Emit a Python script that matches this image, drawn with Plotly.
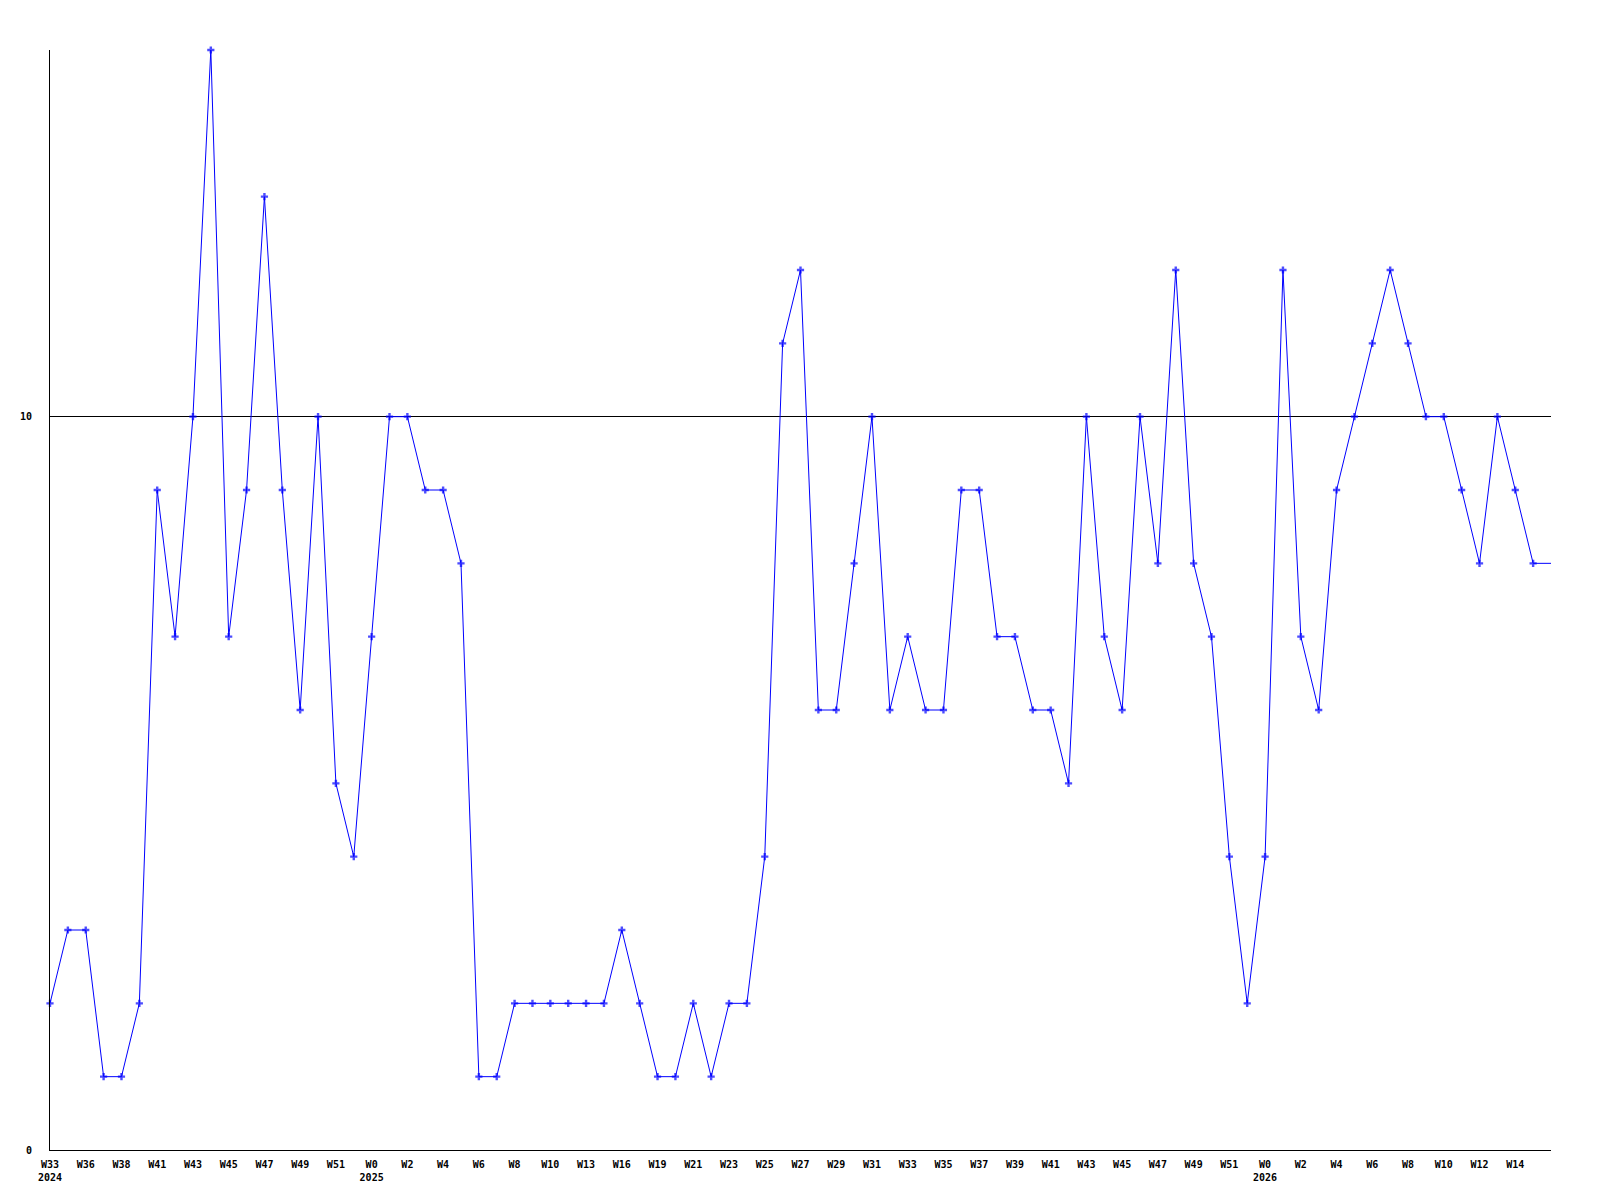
import plotly.graph_objects as go

# Weekly values (85 points)
values = [2, 3, 3, 1, 1, 2, 9, 7, 10, 15,
          7, 9, 13, 9, 6, 10, 5, 4, 7, 10,
          10, 9, 9, 8, 1, 1, 2, 2, 2, 2,
          2, 2, 3, 2, 1, 1, 2, 1, 2, 2,
          4, 11, 12, 6, 6, 8, 10, 6, 7, 6,
          6, 9, 9, 7, 7, 6, 6, 5, 10, 7,
          6, 10, 8, 12, 8, 7, 4, 2, 4, 12,
          7, 6, 9, 10, 11, 12, 11, 10, 10, 9,
          8, 10, 9, 8, 8]

# Tick labels, one every second point
tick_weeks = ["W33", "W36", "W38", "W41", "W43", "W45", "W47", "W49", "W51",
              "W0", "W2", "W4", "W6", "W8",
              "W10", "W13", "W16", "W19", "W21", "W23",
              "W25", "W27", "W29", "W31", "W33", "W35", "W37", "W39", "W41",
              "W43", "W45", "W47", "W49", "W51",
              "W0", "W2", "W4", "W6", "W8", "W10", "W12", "W14"]
tick_years = ["2024", "", "", "", "", "", "", "", "",
              "2025", "", "", "", "",
              "", "", "", "", "", "",
              "", "", "", "", "", "", "", "", "",
              "", "", "", "", "",
              "2026", "", "", "", "", "", "", ""]

y_ticks = [0, 10]

n = len(values)
x = list(range(n))
tickvals = list(range(0, 2 * len(tick_weeks), 2))
ticktext = [f"<b>{w}</b>" + (f"<br><b>{y}</b>" if y else "") for w, y in zip(tick_weeks, tick_years)]
sizes = [6] * (n - 1) + [0]

fig = go.Figure()
fig.add_trace(go.Scatter(
    x=x, y=values, mode="lines+markers",
    line=dict(color="#0000ff", width=1),
    marker=dict(symbol="cross", size=sizes, color="#0000ff", line=dict(width=0)),
    cliponaxis=False, showlegend=False,
))

mono = "DejaVu Sans Mono, Liberation Mono, monospace"
fig.update_layout(
    width=1584, height=1184,
    margin=dict(l=42, r=41, t=42, b=42),
    paper_bgcolor="white", plot_bgcolor="white",
    font=dict(family=mono, size=10, color="black"),
    xaxis=dict(
        range=[0, n - 1], tickmode="array", tickvals=tickvals, ticktext=ticktext,
        showgrid=False, zeroline=False, showline=True, linecolor="black", linewidth=1,
        ticks="", ticklabelstandoff=5, tickangle=0, automargin=False,
        tickfont=dict(family=mono, size=10, color="black"),
    ),
    yaxis=dict(
        range=[0, 15], tickmode="array", tickvals=y_ticks,
        ticktext=[f"<b>{v}</b>" for v in y_ticks],
        showgrid=True, gridcolor="black", gridwidth=1,
        zeroline=False, showline=True, linecolor="black", linewidth=1,
        ticks="", ticklabelstandoff=15, automargin=False,
        tickfont=dict(family=mono, size=10, color="black"),
    ),
)

fig.write_html("out.html")
